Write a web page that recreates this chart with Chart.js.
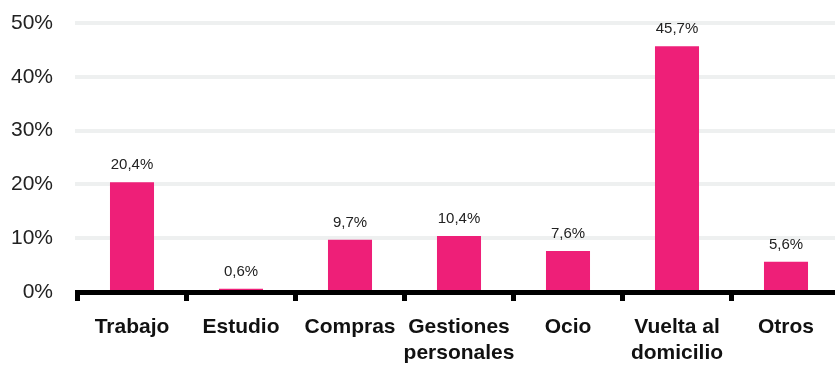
<!DOCTYPE html>
<html lang="es">
<head>
<meta charset="utf-8">
<title>Motivo del desplazamiento</title>
<script src="https://cdn.jsdelivr.net/npm/chart.js@4.4.1/dist/chart.umd.min.js"></script>
<style>
  html, body { margin: 0; padding: 0; background: #ffffff; overflow: hidden; }
  #wrap { position: relative; width: 842px; height: 365px; }
</style>
</head>
<body>
<div id="wrap"><canvas id="chart"></canvas></div>
<script>
// Motivos de desplazamiento (% sobre el total)
const categories = ['Trabajo', 'Estudio', 'Compras', ['Gestiones', 'personales'], 'Ocio', ['Vuelta al', 'domicilio'], 'Otros'];
const shares = [20.4, 0.6, 9.7, 10.4, 7.6, 45.7, 5.6];
const yTicks = [0, 10, 20, 30, 40, 50];

const BAR_COLOR = '#ee1f78';
const FONT = '"Liberation Sans", Arial, Helvetica, sans-serif';

// Etiquetas de valor sobre cada barra, con coma decimal
const valueLabels = {
  id: 'valueLabels',
  afterDatasetsDraw(chart) {
    const ctx = chart.ctx;
    const meta = chart.getDatasetMeta(0);
    ctx.save();
    ctx.font = '15px ' + FONT;
    ctx.fillStyle = '#222222';
    ctx.textAlign = 'center';
    ctx.textBaseline = 'alphabetic';
    meta.data.forEach((bar, i) => {
      const txt = shares[i].toFixed(1).replace('.', ',') + '%';
      ctx.fillText(txt, bar.x, bar.y - 13);
    });
    ctx.restore();
  }
};

new Chart(document.getElementById('chart'), {
  type: 'bar',
  data: {
    labels: categories,
    datasets: [{
      data: shares,
      backgroundColor: BAR_COLOR,
      borderWidth: 0,
      barPercentage: 1,
      categoryPercentage: 0.404
    }]
  },
  options: {
    responsive: true,
    maintainAspectRatio: false,
    animation: false,
    layout: { padding: { top: 23, right: 1.5, bottom: 0, left: 0 } },
    plugins: {
      legend: { display: false },
      tooltip: { enabled: false }
    },
    scales: {
      x: {
        grid: {
          display: true,
          offset: true,
          drawOnChartArea: false,
          drawTicks: true,
          tickLength: 9,
          tickWidth: 5,
          tickColor: '#000000'
        },
        border: { display: true, color: '#000000', width: 5 },
        ticks: {
          color: '#111111',
          font: { family: FONT, size: 21, weight: 'bold', lineHeight: 1.2 },
          padding: 14,
          maxRotation: 0,
          autoSkip: false
        },
        afterFit(scale) { scale.height = 73; }
      },
      y: {
        min: 0,
        max: 50,
        afterBuildTicks(scale) { scale.ticks = yTicks.map(v => ({ value: v })); },
        grid: {
          color: ctx => (ctx.tick && ctx.tick.value === 0) ? 'rgba(0,0,0,0)' : '#eef0f0',
          lineWidth: 4,
          drawTicks: true,
          tickLength: 2.5
        },
        border: { display: false },
        ticks: {
          color: '#222222',
          font: { family: FONT, size: 21 },
          padding: 22,
          callback: v => v + '%'
        },
        afterFit(scale) {
          scale.width = 77.5;
          scale.paddingTop = 0;
          scale.paddingBottom = 0;
        }
      }
    }
  },
  plugins: [valueLabels]
});
</script>
</body>
</html>
